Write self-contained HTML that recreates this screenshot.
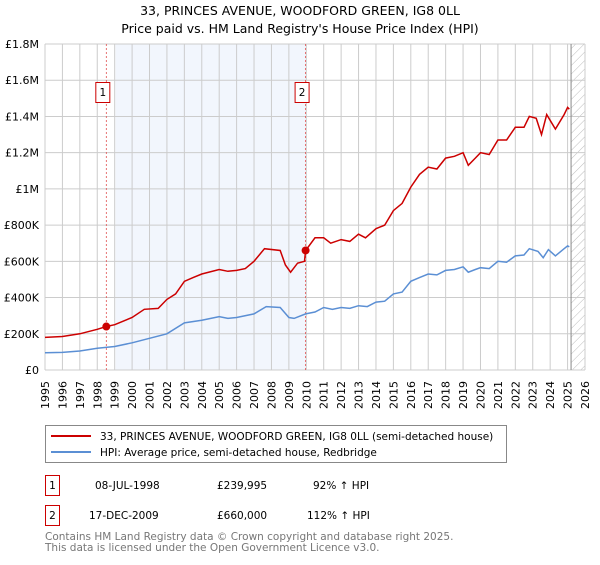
<!DOCTYPE html>
<html><head><meta charset="utf-8"><style>
body{margin:0;background:#fff;font-family:"Liberation Sans","DejaVu Sans",sans-serif;}
svg text{font-family:"DejaVu Sans","Liberation Sans",sans-serif;}
</style></head><body>
<svg id="c" width="600" height="560" xmlns="http://www.w3.org/2000/svg">
<defs><pattern id="hatch" width="6" height="6" patternUnits="userSpaceOnUse" patternTransform="rotate(45)"><line x1="0" y1="0" x2="0" y2="6" stroke="#bbb" stroke-width="1"/></pattern></defs>
<text x="300" y="15" text-anchor="middle" font-size="12.5">33, PRINCES AVENUE, WOODFORD GREEN, IG8 0LL</text>
<text x="300" y="33" text-anchor="middle" font-size="12.5">Price paid vs. HM Land Registry's House Price Index (HPI)</text>
<g id="plot"></g>
<g>
<rect x="45.5" y="425.5" width="461" height="37" fill="#fff" stroke="#888"/>
<line x1="51" y1="436" x2="91" y2="436" stroke="#cc0000" stroke-width="2"/>
<text x="100" y="440" font-size="10.5">33, PRINCES AVENUE, WOODFORD GREEN, IG8 0LL (semi-detached house)</text>
<line x1="51" y1="452" x2="91" y2="452" stroke="#5b8fd4" stroke-width="2"/>
<text x="100" y="456" font-size="10.5">HPI: Average price, semi-detached house, Redbridge</text>
</g>
<g font-size="10.5">
<rect x="45.5" y="475.5" width="14" height="20" fill="#fff" stroke="#cc0000"/>
<text x="52.5" y="489" text-anchor="middle">1</text>
<text x="95" y="489">08-JUL-1998</text><text x="217" y="489">£239,995</text><text x="313" y="489">92% ↑ HPI</text>
<rect x="45.5" y="505.5" width="14" height="20" fill="#fff" stroke="#cc0000"/>
<text x="52.5" y="519" text-anchor="middle">2</text>
<text x="89" y="519">17-DEC-2009</text><text x="217" y="519">£660,000</text><text x="307" y="519">112% ↑ HPI</text>
</g>
<text x="45" y="540" font-size="10.5" fill="#777">Contains HM Land Registry data © Crown copyright and database right 2025.</text>
<text x="45" y="551" font-size="10.5" fill="#777">This data is licensed under the Open Government Licence v3.0.</text>
</svg>
<script>
const redYears=[1995,1996,1997,1998,1998.52,1999,2000,2000.7,2001.5,2002,2002.5,2003,2003.5,2004,2005,2005.5,2006,2006.5,2007,2007.6,2008.5,2008.8,2009.1,2009.5,2009.9,2009.96,2010.5,2011,2011.4,2012,2012.5,2013,2013.4,2014,2014.5,2015,2015.5,2016,2016.5,2017,2017.5,2018,2018.5,2019,2019.3,2019.7,2020,2020.5,2021,2021.5,2022,2022.5,2022.8,2023.2,2023.5,2023.8,2024.3,2024.8,2025,2025.1];
const redValues=[180,185,200,225,240,250,290,335,340,390,420,490,510,530,555,545,550,560,600,670,660,580,540,590,600,660,730,730,700,720,710,750,730,780,800,880,920,1010,1080,1120,1110,1170,1180,1200,1130,1170,1200,1190,1270,1270,1340,1340,1400,1390,1300,1410,1330,1410,1450,1440];
const hpiYears=[1995,1996,1997,1998,1998.5,1999,2000,2001,2002,2003,2004,2005,2005.5,2006,2007,2007.7,2008.5,2009,2009.3,2009.96,2010.5,2011,2011.5,2012,2012.5,2013,2013.5,2014,2014.5,2015,2015.5,2016,2016.5,2017,2017.5,2018,2018.5,2019,2019.3,2019.7,2020,2020.5,2021,2021.5,2022,2022.5,2022.8,2023.3,2023.6,2023.9,2024.3,2024.8,2025,2025.1];
const hpiValues=[95,97,105,120,125,130,150,175,200,260,275,295,285,290,310,350,345,290,285,310,320,345,335,345,340,355,350,375,380,420,430,490,510,530,525,550,555,570,540,555,565,560,600,595,630,635,670,655,620,665,630,670,685,680];
const saleYears=[1998.52,2009.96];
const saleValues=[239.995,660];
const yTicks=[0,200,400,600,800,1000,1200,1400,1600,1800];
const yTickLabels=["£0","£200K","£400K","£600K","£800K","£1M","£1.2M","£1.4M","£1.6M","£1.8M"];
const xTicks=[1995,1996,1997,1998,1999,2000,2001,2002,2003,2004,2005,2006,2007,2008,2009,2010,2011,2012,2013,2014,2015,2016,2017,2018,2019,2020,2021,2022,2023,2024,2025,2026];
const NS="http://www.w3.org/2000/svg";
const L=45,R=585,T=44,B=370;
const xs=y=>L+(y-1995)/31*(R-L);
const ys=v=>B-v/1800*(B-T);
const g=document.getElementById('plot');
function mk(tag,attrs,parent){const e=document.createElementNS(NS,tag);for(const k in attrs)e.setAttribute(k,attrs[k]);(parent||g).appendChild(e);return e;}
let e=mk('rect',{x:xs(1999.05),y:T,width:xs(2009.96)-xs(1999.05),height:B-T,fill:'#f2f6fd'});


e=mk('rect',{x:xs(2025.2),y:T,width:R-xs(2025.2),height:B-T,fill:'url(#hatch)'});


xTicks.forEach(y=>{
  e=mk('line',{x1:xs(y),x2:xs(y),y1:T,y2:B,stroke:'#ccc','stroke-width':1});
  
  
  const tx=xs(y)+4, ty=381;
  e=mk('text',{x:tx,y:ty,'text-anchor':'end','font-size':11,transform:'rotate(-90 '+tx+' '+ty+')'});
  e.textContent=y;
  
  
});
yTicks.forEach((v,i)=>{
  e=mk('line',{x1:L,x2:R,y1:ys(v),y2:ys(v),stroke:'#ccc','stroke-width':1});
  
  
  e=mk('text',{x:39,y:ys(v)+4,'text-anchor':'end','font-size':11});
  e.textContent=yTickLabels[i];
  
  
});
e=mk('line',{x1:xs(2025.2),x2:xs(2025.2),y1:T,y2:B,stroke:'#888','stroke-width':1});


saleYears.forEach((y,i)=>{
  e=mk('line',{x1:xs(y),x2:xs(y),y1:T,y2:B,stroke:'#e05050','stroke-width':0.8,'stroke-dasharray':'2,2'});
  
  
});
function path(xv,yv,color,name){
  const d=xv.map((x,i)=>(i?'L':'M')+xs(x).toFixed(1)+','+ys(yv[i]).toFixed(1)).join('');
  const p=mk('path',{d:d,fill:'none',stroke:color,'stroke-width':1.5});
  
  
}
path(hpiYears,hpiValues,'#5b8fd4','hpi-line');
path(redYears,redValues,'#cc0000','property-price-line');
saleYears.forEach((y,i)=>{
  e=mk('circle',{cx:xs(y),cy:ys(saleValues[i]),r:4,fill:'#cc0000'});
  
  
  const bx=xs(y)-11;
  e=mk('rect',{x:bx+0.5,y:82.5,width:14,height:20,fill:'#fff',stroke:'#cc0000'});
  
  
  e=mk('text',{x:bx+7.5,y:96,'text-anchor':'middle','font-size':10.5});
  e.textContent=String(i+1);
  
  
});
</script>
</body></html>
